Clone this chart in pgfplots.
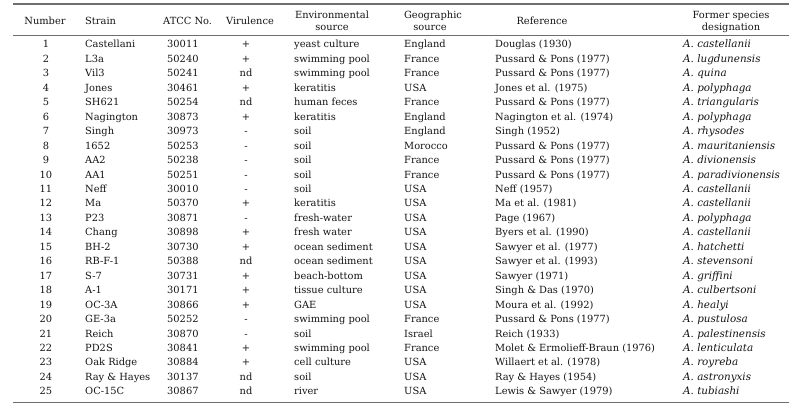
\documentclass[border=0pt]{standalone}
\usepackage{pgfplots}
\pgfplotsset{compat=1.18}
\usepackage{fontspec}
\setmainfont{DejaVu Serif}
\definecolor{txt}{HTML}{141414}
\definecolor{rule}{HTML}{6E6E6E}
\newcommand\rowy[1]{45.5+14.45*(#1-1)}
\newcommand\trow[8]{%
  \node[cc] at (axis cs:46,{\rowy{#1}}) {#1};
  \node[ll] at (axis cs:85,{\rowy{#1}}) {#2};
  \node[ll] at (axis cs:167,{\rowy{#1}}) {#3};
  \node[cc] at (axis cs:246,{\rowy{#1}}) {#4};
  \node[ll] at (axis cs:294,{\rowy{#1}}) {#5};
  \node[ll] at (axis cs:404,{\rowy{#1}}) {#6};
  \node[ll] at (axis cs:495,{\rowy{#1}}) {#7};
  \node[ll] at (axis cs:683,{\rowy{#1}}) {\fontsize{10.4}{11}\selectfont\itshape #8};
}
\begin{document}
\fontsize{9.9}{11}\selectfont
\begin{tikzpicture}[
  cc/.style={anchor=center,inner sep=0pt,text height=7bp,text depth=2bp,text=txt},
  ll/.style={anchor=west,inner sep=0pt,text height=7bp,text depth=2bp,text=txt}]
\begin{axis}[width=797bp,height=413bp,scale only axis,
  xmin=0,xmax=797,ymin=0,ymax=413,y dir=reverse,
  hide axis,clip=false]
\addplot[draw=none] coordinates {(0,0) (797,413)};
% rules
\addplot[rule,line width=2.2bp] coordinates {(13,4.4) (789,4.4)};
\addplot[rule,line width=0.9bp] coordinates {(13,35) (789,35)};
\addplot[rule,line width=1bp] coordinates {(13,402) (789,402)};
% header
\node[cc] at (axis cs:45,22) {Number};
\node[ll] at (axis cs:85,22) {Strain};
\node[ll] at (axis cs:163,22) {ATCC No.};
\node[cc] at (axis cs:250,22) {Virulence};
\node[cc] at (axis cs:332,16) {Environmental};
\node[cc] at (axis cs:332,28.5) {source};
\node[cc] at (axis cs:433,16) {Geographic};
\node[cc] at (axis cs:430,28.5) {source};
\node[cc] at (axis cs:542,22) {Reference};
\node[cc] at (axis cs:731,16) {Former species};
\node[cc] at (axis cs:731,28.5) {designation};
% body
\trow{1}{Castellani}{30011}{+}{yeast culture}{England}{Douglas (1930)}{A. castellanii}
\trow{2}{L3a}{50240}{+}{swimming pool}{France}{Pussard \& Pons (1977)}{A. lugdunensis}
\trow{3}{Vil3}{50241}{nd}{swimming pool}{France}{Pussard \& Pons (1977)}{A. quina}
\trow{4}{Jones}{30461}{+}{keratitis}{USA}{Jones et al. (1975)}{A. polyphaga}
\trow{5}{SH621}{50254}{nd}{human feces}{France}{Pussard \& Pons (1977)}{A. triangularis}
\trow{6}{Nagington}{30873}{+}{keratitis}{England}{Nagington et al. (1974)}{A. polyphaga}
\trow{7}{Singh}{30973}{-}{soil}{England}{Singh (1952)}{A. rhysodes}
\trow{8}{1652}{50253}{-}{soil}{Morocco}{Pussard \& Pons (1977)}{A. mauritaniensis}
\trow{9}{AA2}{50238}{-}{soil}{France}{Pussard \& Pons (1977)}{A. divionensis}
\trow{10}{AA1}{50251}{-}{soil}{France}{Pussard \& Pons (1977)}{A. paradivionensis}
\trow{11}{Neff}{30010}{-}{soil}{USA}{Neff (1957)}{A. castellanii}
\trow{12}{Ma}{50370}{+}{keratitis}{USA}{Ma et al. (1981)}{A. castellanii}
\trow{13}{P23}{30871}{-}{fresh-water}{USA}{Page (1967)}{A. polyphaga}
\trow{14}{Chang}{30898}{+}{fresh water}{USA}{Byers et al. (1990)}{A. castellanii}
\trow{15}{BH-2}{30730}{+}{ocean sediment}{USA}{Sawyer et al. (1977)}{A. hatchetti}
\trow{16}{RB-F-1}{50388}{nd}{ocean sediment}{USA}{Sawyer et al. (1993)}{A. stevensoni}
\trow{17}{S-7}{30731}{+}{beach-bottom}{USA}{Sawyer (1971)}{A. griffini}
\trow{18}{A-1}{30171}{+}{tissue culture}{USA}{Singh \& Das (1970)}{A. culbertsoni}
\trow{19}{OC-3A}{30866}{+}{GAE}{USA}{Moura et al. (1992)}{A. healyi}
\trow{20}{GE-3a}{50252}{-}{swimming pool}{France}{Pussard \& Pons (1977)}{A. pustulosa}
\trow{21}{Reich}{30870}{-}{soil}{Israel}{Reich (1933)}{A. palestinensis}
\trow{22}{PD2S}{30841}{+}{swimming pool}{France}{Molet \& Ermolieff-Braun (1976)}{A. lenticulata}
\trow{23}{Oak Ridge}{30884}{+}{cell culture}{USA}{Willaert et al. (1978)}{A. royreba}
\trow{24}{Ray \& Hayes}{30137}{nd}{soil}{USA}{Ray \& Hayes (1954)}{A. astronyxis}
\trow{25}{OC-15C}{30867}{nd}{river}{USA}{Lewis \& Sawyer (1979)}{A. tubiashi}
\end{axis}
\end{tikzpicture}
\end{document}
